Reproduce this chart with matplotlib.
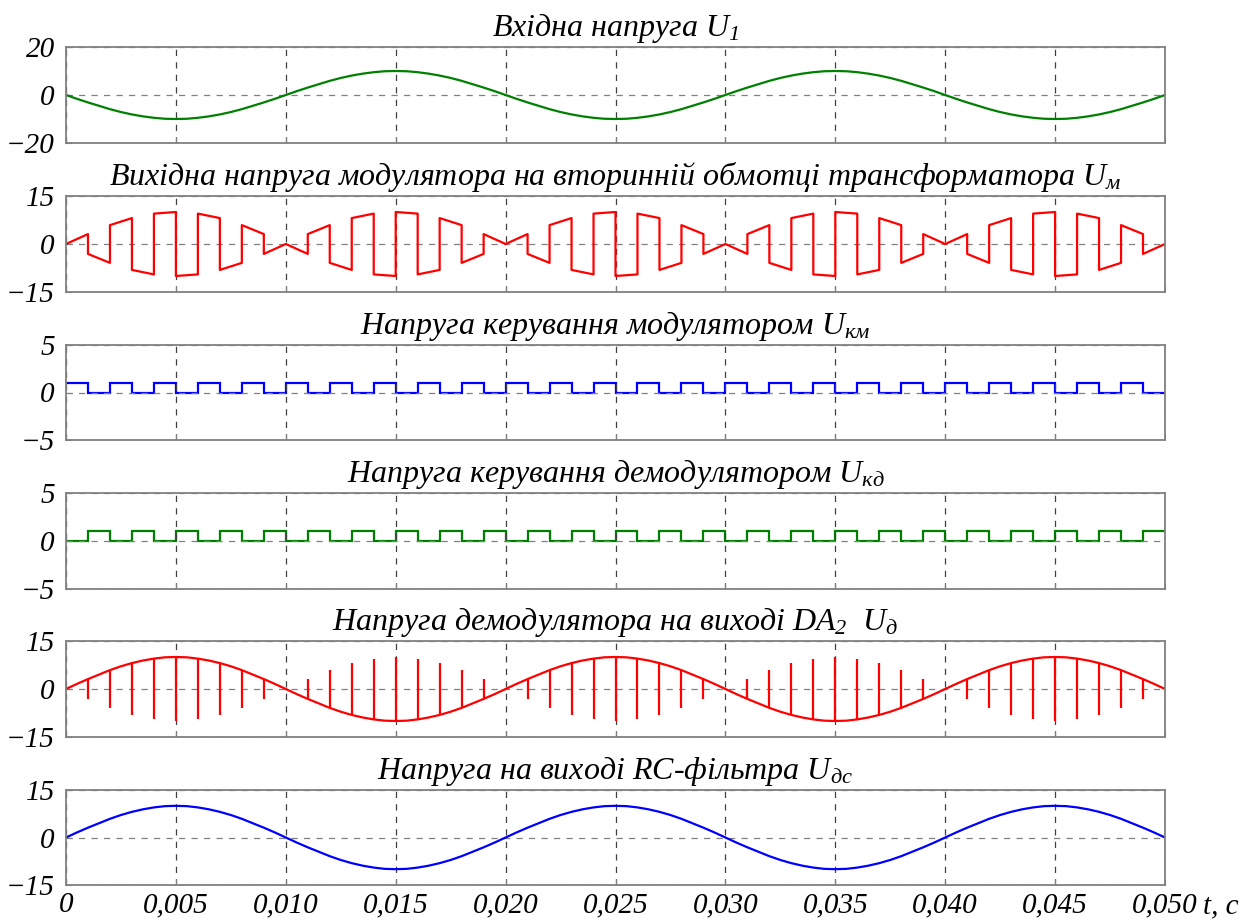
import numpy as np
import matplotlib
matplotlib.use('Agg')
import matplotlib.pyplot as plt
from matplotlib import rcParams
from matplotlib.transforms import offset_copy

rcParams.update({
    'font.family': ['Liberation Serif', 'DejaVu Serif'],
    'font.style': 'italic',
    'mathtext.fontset': 'custom',
    'mathtext.it': 'Liberation Serif:italic',
    'mathtext.rm': 'Liberation Serif:italic',
    'axes.unicode_minus': True,
})

# time axis (s)
t_fine = np.linspace(0, 0.05, 101)      # 0.0005 s samples
t_edges = np.linspace(0, 0.05, 51)      # 0.001 s switching instants

# RC-filter output U_dc (also the envelope of the demodulator output), V
u_dc = [0, 1.6, 3.1, 4.5, 5.9, 7.1, 8.1, 8.9, 9.5, 9.9, 10, 9.9, 9.5, 8.9, 8.1, 7.1, 5.9, 4.5, 3.1, 1.6,
        0, -1.6, -3.1, -4.5, -5.9, -7.1, -8.1, -8.9, -9.5, -9.9, -10, -9.9, -9.5, -8.9, -8.1, -7.1, -5.9, -4.5, -3.1, -1.6,
        0, 1.6, 3.1, 4.5, 5.9, 7.1, 8.1, 8.9, 9.5, 9.9, 10, 9.9, 9.5, 8.9, 8.1, 7.1, 5.9, 4.5, 3.1, 1.6,
        0, -1.6, -3.1, -4.5, -5.9, -7.1, -8.1, -8.9, -9.5, -9.9, -10, -9.9, -9.5, -8.9, -8.1, -7.1, -5.9, -4.5, -3.1, -1.6,
        0, 1.6, 3.1, 4.5, 5.9, 7.1, 8.1, 8.9, 9.5, 9.9, 10, 9.9, 9.5, 8.9, 8.1, 7.1, 5.9, 4.5, 3.1, 1.6,
        0]

# input voltage U1
u1 = [0, -1.6, -3.1, -4.5, -5.9, -7.1, -8.1, -8.9, -9.5, -9.9, -10, -9.9, -9.5, -8.9, -8.1, -7.1, -5.9, -4.5, -3.1, -1.6,
      0, 1.6, 3.1, 4.5, 5.9, 7.1, 8.1, 8.9, 9.5, 9.9, 10, 9.9, 9.5, 8.9, 8.1, 7.1, 5.9, 4.5, 3.1, 1.6,
      0, -1.6, -3.1, -4.5, -5.9, -7.1, -8.1, -8.9, -9.5, -9.9, -10, -9.9, -9.5, -8.9, -8.1, -7.1, -5.9, -4.5, -3.1, -1.6,
      0, 1.6, 3.1, 4.5, 5.9, 7.1, 8.1, 8.9, 9.5, 9.9, 10, 9.9, 9.5, 8.9, 8.1, 7.1, 5.9, 4.5, 3.1, 1.6,
      0, -1.6, -3.1, -4.5, -5.9, -7.1, -8.1, -8.9, -9.5, -9.9, -10, -9.9, -9.5, -8.9, -8.1, -7.1, -5.9, -4.5, -3.1, -1.6,
      0]

# modulator output U_m: value at start / end of every 0.001 s interval
um_start = [0, -3.1, 5.9, -8.1, 9.5, -10, 9.5, -8.1, 5.9, -3.1,
            0, 3.1, -5.9, 8.1, -9.5, 10, -9.5, 8.1, -5.9, 3.1,
            0, -3.1, 5.9, -8.1, 9.5, -10, 9.5, -8.1, 5.9, -3.1,
            0, 3.1, -5.9, 8.1, -9.5, 10, -9.5, 8.1, -5.9, 3.1,
            0, -3.1, 5.9, -8.1, 9.5, -10, 9.5, -8.1, 5.9, -3.1]
um_end = [3.1, -5.9, 8.1, -9.5, 10, -9.5, 8.1, -5.9, 3.1, 0,
          -3.1, 5.9, -8.1, 9.5, -10, 9.5, -8.1, 5.9, -3.1, 0,
          3.1, -5.9, 8.1, -9.5, 10, -9.5, 8.1, -5.9, 3.1, 0,
          -3.1, 5.9, -8.1, 9.5, -10, 9.5, -8.1, 5.9, -3.1, 0,
          3.1, -5.9, 8.1, -9.5, 10, -9.5, 8.1, -5.9, 3.1, 0]

# control voltages (level per 0.001 s interval)
u_km = [1, 0, 1, 0, 1, 0, 1, 0, 1, 0, 1, 0, 1, 0, 1, 0, 1, 0, 1, 0, 1, 0, 1, 0, 1,
        0, 1, 0, 1, 0, 1, 0, 1, 0, 1, 0, 1, 0, 1, 0, 1, 0, 1, 0, 1, 0, 1, 0, 1, 0]
u_kd = [0, 1, 0, 1, 0, 1, 0, 1, 0, 1, 0, 1, 0, 1, 0, 1, 0, 1, 0, 1, 0, 1, 0, 1, 0,
        1, 0, 1, 0, 1, 0, 1, 0, 1, 0, 1, 0, 1, 0, 1, 0, 1, 0, 1, 0, 1, 0, 1, 0, 1]

# demodulator switching spikes at t = 0.001 ... 0.049 s
spike_amp = [3.1, 5.9, 8.1, 9.5, 10, 9.5, 8.1, 5.9, 3.1, 0,
             -3.1, -5.9, -8.1, -9.5, -10, -9.5, -8.1, -5.9, -3.1, 0,
             3.1, 5.9, 8.1, 9.5, 10, 9.5, 8.1, 5.9, 3.1, 0,
             -3.1, -5.9, -8.1, -9.5, -10, -9.5, -8.1, -5.9, -3.1, 0,
             3.1, 5.9, 8.1, 9.5, 10, 9.5, 8.1, 5.9, 3.1]

x_ticks = [0, 0.005, 0.010, 0.015, 0.020, 0.025, 0.030, 0.035, 0.040, 0.045, 0.050]
x_ticklabels = ['0', '0,005', '0,010', '0,015', '0,020', '0,025',
                '0,030', '0,035', '0,040', '0,045', '0,050']

titles = [r'Вхідна напруга $U_1$',
          r'Вихідна напруга модулятора на вторинній обмотці трансформатора $U_м$',
          r'Напруга керування модулятором $U_{км}$',
          r'Напруга керування демодулятором $U_{кд}$',
          r'Напруга демодулятора на виході $DA_2\ \ U_д$',
          r'Напруга на виході RC-фільтра $U_{дс}$']
y_limits = [20, 15, 5, 5, 15, 15]

GREEN = '#008000'
RED = '#ff0000'
BLUE = '#0000ff'

fig = plt.figure(figsize=(12.5, 9.23), dpi=100)
W, H = 1250.0, 923.0
tops = [47, 196, 345, 493, 641, 790]
bottoms = [143, 292, 440, 589, 737, 885]

axes = []
for i in range(6):
    ax = fig.add_axes([66 / W, 1 - bottoms[i] / H, 1099 / W, (bottoms[i] - tops[i]) / H])
    lim = y_limits[i]
    ax.set_xlim(0, 0.05)
    ax.set_ylim(-lim, lim)
    ax.set_yticks([-lim, 0, lim])
    ax.set_xticks(x_ticks)
    ax.xaxis.grid(True, linestyle=(0, (5, 5)), color='0.25', linewidth=0.9)
    ax.yaxis.grid(True, linestyle=(0, (5, 5)), color='0.5', linewidth=0.9)
    ax.tick_params(direction='in', length=4, color='0.5', labelsize=21)
    ax.tick_params(axis='y', pad=8)
    ax.tick_params(axis='x', pad=5)
    for s in ax.spines.values():
        s.set_color('0.5')
        s.set_linewidth(1.3)
    if i < 5:
        ax.set_xticklabels([])
    else:
        ax.set_xticklabels(x_ticklabels)
    tr = offset_copy(ax.transAxes, fig=fig, x=0, y=11, units='dots')
    ax.text(0.5, 1.0, titles[i], transform=tr, ha='center', va='baseline', fontsize=23)
    axes.append(ax)

lw = 1.6
axes[0].plot(t_fine, u1, color=GREEN, lw=lw)

t_um = np.column_stack([t_edges[:-1], t_edges[1:]]).ravel()
v_um = np.column_stack([um_start, um_end]).ravel()
axes[1].plot(t_um, v_um, color=RED, lw=lw)

axes[2].stairs(u_km, t_edges, baseline=None, color=BLUE, lw=lw)
axes[3].stairs(u_kd, t_edges, baseline=None, color=GREEN, lw=lw)

spike_amp = np.array(spike_amp)
axes[4].vlines(t_edges[1:-1], -spike_amp, spike_amp, color=RED, lw=lw)
axes[4].plot(t_fine, u_dc, color=RED, lw=lw)

axes[5].plot(t_fine, u_dc, color=BLUE, lw=lw)

fig.text(1203 / W, 1 - 906 / H, 't, c', fontsize=21, va='center', ha='left')

plt.savefig('out.png', dpi=100)
plt.close('all')
